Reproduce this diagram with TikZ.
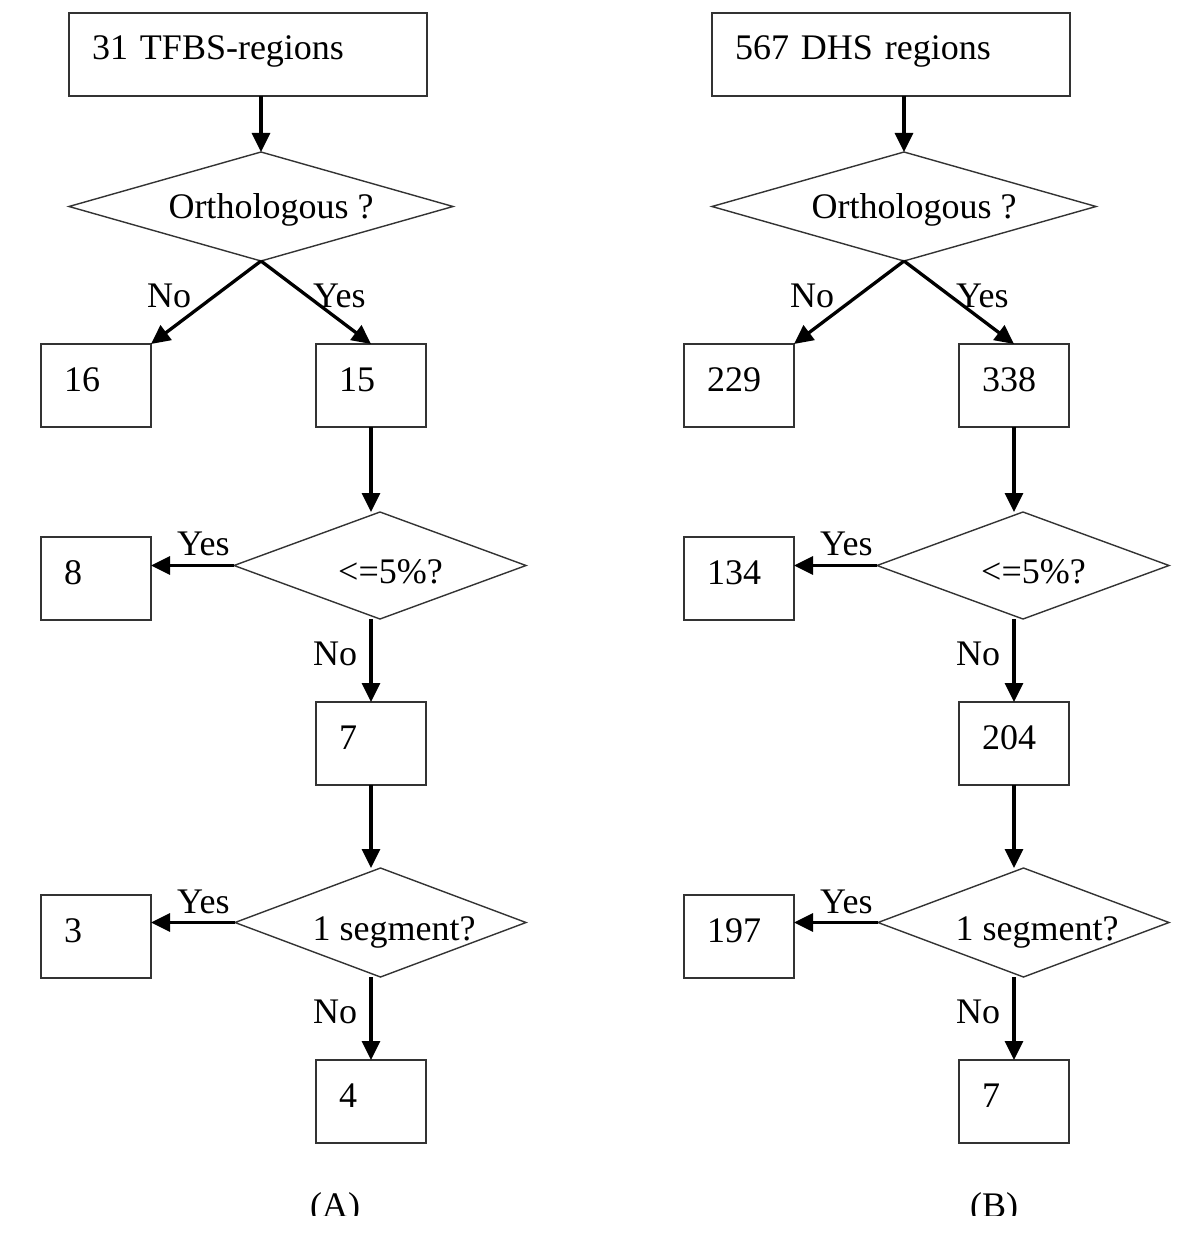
\documentclass[tikz,border=0pt]{standalone}
\usepackage{fontspec}
\setmainfont{Liberation Serif}
\usetikzlibrary{shapes.geometric,arrows.meta}
\tikzset{
  txt/.style={font=\fontsize{36}{40}\selectfont},
  box/.style={txt, draw=black!80, line width=1.4pt, rectangle, inner xsep=23pt, inner ysep=0pt,
    outer sep=0pt, minimum height=83pt, align=left, text height=24pt, text depth=13pt},
  smallbox/.style={box, minimum width=110pt, text width=64pt},
  topbox/.style={box, minimum width=358pt, text width=312pt},
  decision/.style={txt, draw=black!80, line width=1.4pt, diamond, aspect=1, inner sep=0pt, outer sep=0pt},
  arr/.style={-{Triangle[length=19pt,width=18pt]}, line width=3.3pt, black},
  lbl/.style={txt, anchor=base west, inner sep=0pt},
}
\begin{document}
\begin{tikzpicture}[x=1pt,y=-1pt]
\useasboundingbox (0,0) rectangle (1200,1244);
\fill[white] (0,0) rectangle (1200,1244);

% ---------------- Panel A ----------------
\node[topbox] (tA) at (248,54.5) {31 TFBS-regions};
\node[decision, minimum width=384pt, minimum height=109pt, text height=28pt, text depth=5pt]
  (dA1) at (261,206.5) {\makebox[0pt]{\hspace*{20pt}Orthologous ?}};
\node[smallbox] (bA16) at (96,385.5) {16};
\node[smallbox] (bA15) at (371,385.5) {15};
\node[decision, minimum width=292pt, minimum height=107pt, text height=38pt, text depth=3pt]
  (dA2) at (380,565.5) {\makebox[0pt]{\hspace*{21pt}<=5\%?}};
\node[smallbox] (bA8) at (96,578.5) {8};
\node[smallbox] (bA7) at (371,743.5) {7};
\node[decision, minimum width=291pt, minimum height=109pt, text height=38pt, text depth=3pt]
  (dA3) at (380.5,922.5) {\makebox[0pt]{\hspace*{27pt}1 segment?}};
\node[smallbox] (bA3) at (96,936.5) {3};
\node[smallbox] (bA4) at (371,1101.5) {4};

\draw[arr] (tA.south -| dA1.north) -- (dA1.north);
\draw[arr] (dA1.south) -- (bA16.north east);
\draw[arr] (dA1.south) -- (bA15.north);
\draw[arr] (bA15.south) -- (bA15.south |- dA2.north);
\draw[arr] (dA2.west) -- (dA2.west -| bA8.east);
\draw[arr] (bA7.north |- dA2.south) -- (bA7.north);
\draw[arr] (bA7.south) -- (bA7.south |- dA3.north);
\draw[arr] (dA3.west) -- (dA3.west -| bA3.east);
\draw[arr] (bA4.north |- dA3.south) -- (bA4.north);

\node[lbl] (lA1) at (147,307) {No};
\node[lbl] (lA2) at (313,307) {Yes};
\node[lbl] (lA3) at (177,555) {Yes};
\node[lbl] (lA4) at (313,665) {No};
\node[lbl] (lA5) at (177,913) {Yes};
\node[lbl] (lA6) at (313,1023) {No};

% ---------------- Panel B ----------------
\node[topbox] (tB) at (891,54.5) {567 DHS regions};
\node[decision, minimum width=384pt, minimum height=109pt, text height=28pt, text depth=5pt]
  (dB1) at (904,206.5) {\makebox[0pt]{\hspace*{20pt}Orthologous ?}};
\node[smallbox] (bB229) at (739,385.5) {229};
\node[smallbox] (bB338) at (1014,385.5) {338};
\node[decision, minimum width=292pt, minimum height=107pt, text height=38pt, text depth=3pt]
  (dB2) at (1023,565.5) {\makebox[0pt]{\hspace*{21pt}<=5\%?}};
\node[smallbox] (bB134) at (739,578.5) {134};
\node[smallbox] (bB204) at (1014,743.5) {204};
\node[decision, minimum width=291pt, minimum height=109pt, text height=38pt, text depth=3pt]
  (dB3) at (1023.5,922.5) {\makebox[0pt]{\hspace*{27pt}1 segment?}};
\node[smallbox] (bB197) at (739,936.5) {197};
\node[smallbox] (bB7) at (1014,1101.5) {7};

\draw[arr] (tB.south -| dB1.north) -- (dB1.north);
\draw[arr] (dB1.south) -- (bB229.north east);
\draw[arr] (dB1.south) -- (bB338.north);
\draw[arr] (bB338.south) -- (bB338.south |- dB2.north);
\draw[arr] (dB2.west) -- (dB2.west -| bB134.east);
\draw[arr] (bB204.north |- dB2.south) -- (bB204.north);
\draw[arr] (bB204.south) -- (bB204.south |- dB3.north);
\draw[arr] (dB3.west) -- (dB3.west -| bB197.east);
\draw[arr] (bB7.north |- dB3.south) -- (bB7.north);

\node[lbl] (lB1) at (790,307) {No};
\node[lbl] (lB2) at (956,307) {Yes};
\node[lbl] (lB3) at (820,555) {Yes};
\node[lbl] (lB4) at (956,665) {No};
\node[lbl] (lB5) at (820,913) {Yes};
\node[lbl] (lB6) at (956,1023) {No};

% ---------------- Panel captions (cut at the bottom) ----------------
\begin{scope}
  \clip (0,0) rectangle (1200,1215);
  \node[lbl] (capA) at (310,1217) {(A)};
  \node[lbl] (capB) at (970,1217) {(B)};
\end{scope}
\end{tikzpicture}
\end{document}
